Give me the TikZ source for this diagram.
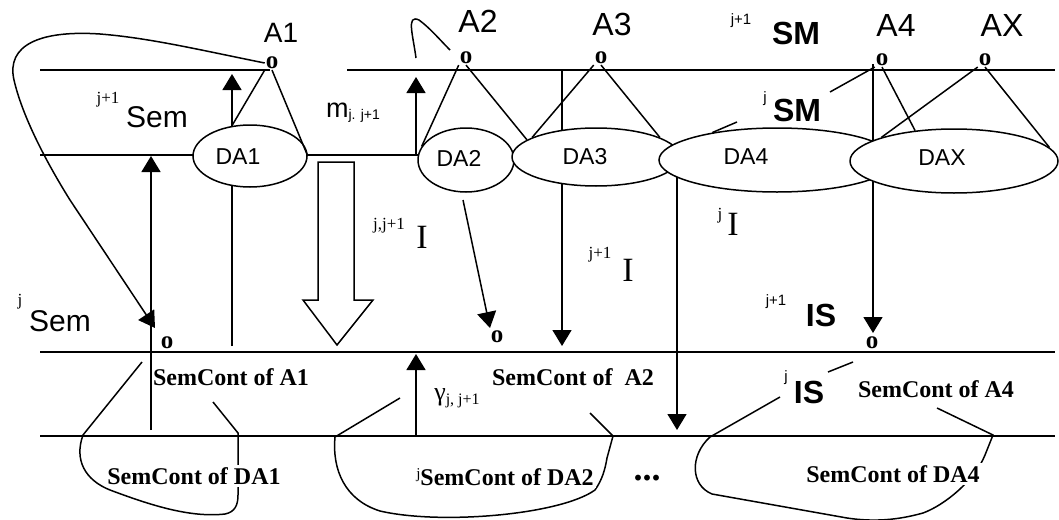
\documentclass[tikz,border=0pt]{standalone}
\usepackage{fontspec}
\setmainfont{Liberation Serif}
\setsansfont{Liberation Sans}
\usetikzlibrary{arrows.meta,shapes.geometric}
\newcommand{\fsz}[1]{\fontsize{#1}{#1}\selectfont}
\begin{document}
\begin{tikzpicture}[x=1pt,y=-1pt,line width=1.5pt,
  arr/.style={-{Triangle[length=16pt,width=19pt]}},
  omark/.style={font=\rmfamily\bfseries\fsz{25}, inner sep=0.3pt, fill=white},
  daell/.style={ellipse, draw, fill=white, inner sep=0pt},
  datxt/.style={font=\sffamily\fsz{23}, inner sep=0pt},
  toplab/.style={font=\sffamily\fsz{32}, inner sep=0pt},
  semlab/.style={font=\sffamily\fsz{30}, inner sep=0pt},
  smlab/.style={font=\sffamily\bfseries\fsz{32}, inner sep=0pt},
  supsf/.style={font=\sffamily\fsz{15}, inner sep=0pt},
  suprm/.style={font=\rmfamily\fsz{17}, inner sep=0pt},
  ilab/.style={font=\rmfamily\fsz{34}, inner sep=0pt},
  sclab/.style={font=\rmfamily\bfseries\fsz{24}, inner sep=0pt},
  scdalab/.style={font=\rmfamily\bfseries\fsz{24}, fill=white, inner sep=2pt},
]
\useasboundingbox (0,0) rectangle (1059,519);
\fill[white] (0,0) rectangle (1059,519);

% level lines
\draw (40,70) -- (270,70);
\draw (347,70) -- (1055,70);
\draw (40,155) -- (420,155);
\draw (40,352) -- (1055,352);
\draw (40,436) -- (1055,436);

% coordinates for free connector ends
\coordinate (a1b) at (232,346); \coordinate (a1t) at (232,74);
\coordinate (s1b) at (151,430); \coordinate (s1t) at (151,156);
\coordinate (m1b) at (416,155); \coordinate (m1t) at (416,77);
\coordinate (a3t) at (562,70);  \coordinate (a3b) at (562,346);
\coordinate (j4t) at (677,165); \coordinate (j4b) at (677,430);
\coordinate (a4t) at (873,64);  \coordinate (a4b) at (873,333);
\coordinate (gb) at (416,436);  \coordinate (gt) at (416,354);
\coordinate (d2b) at (463,200); \coordinate (d2e) at (490,328);
\coordinate (jS) at (155,328);

% vertical arrows (behind ellipses)
\draw[arr] (a1b) -- (a1t);
\draw[arr] (s1b) -- (s1t);
\draw[arr] (m1b) -- (m1t);
\draw[arr] (a3t) -- (a3b);
\draw[arr] (j4t) -- (j4b);
\draw[arr] (a4t) -- (a4b);
\draw[arr] (gb) -- (gt);
\draw[arr] (d2b) -- (d2e);

% ellipses
\node[daell, minimum width=114, minimum height=62] (DA1) at (250,156) {};
\node[daell, minimum width=96, minimum height=64] (DA2) at (466,160) {};
\node[daell, minimum width=168, minimum height=58] (DA3) at (596,157) {};
\node[daell, minimum width=236, minimum height=64] (DA4) at (777,160) {};
\node[daell, minimum width=208, minimum height=64] (DAX) at (954,161) {};
\node[datxt] (tDA1) at (238,157) {DA1};
\node[datxt] (tDA2) at (459,158) {DA2};
\node[datxt] (tDA3) at (585,157) {DA3};
\node[datxt] (tDA4) at (746,157) {DA4};
\node[datxt] (tDAX) at (942,158) {DAX};

% hollow arrow
\draw (318,162) -- (354,162) -- (354,300) -- (373,300) -- (337,345) -- (303,300) -- (318,300) -- cycle;

% o markers
\node[omark] (oA1) at (272,63) {o};
\node[omark] (oA2) at (466,58) {o};
\node[omark] (oA3) at (601,58) {o};
\node[omark] (oA4) at (882,60) {o};
\node[omark] (oAX) at (985,60) {o};
\node[omark] (oS1) at (167,343) {o};
\node[omark] (oS2) at (497,337) {o};
\node[omark] (oS4) at (872,343) {o};

% triangles
\draw (oA1.south west) -- (DA1.121);
\draw (oA1.south) -- (DA1.east);
\draw (oA2.south west) -- (DA2.163);
\draw (oA2.south) -- (DA3.166);
\draw (oA3.south west) -- (DA3.163);
\draw (oA3.south) -- (DA3.17);
\draw (oA4.south) -- (DAX.142);
\draw (oAX.south west) -- (DAX.162);
\draw (oAX.south) -- (DAX.8);

% labels top
\node[font=\sffamily\fsz{28}, inner sep=0pt] (lA1) at (281,33) {A1};
\node[toplab] (lA2) at (478,21) {A2};
\node[toplab] (lA3) at (612,24) {A3};
\node[toplab] (lA4) at (896,25) {A4};
\node[toplab] (lAX) at (1002,25) {AX};
\node[supsf] (sSM1) at (741,21) {j+1};
\node[smlab] (SM1) at (796,33) {SM};
\node[supsf] (sSM0) at (765,99) {j};
\node[smlab] (SM0) at (797,110) {SM};
\node[suprm] (sSem1) at (108,100) {j+1};
\node[semlab] (Sem1) at (157,117) {Sem};
\node[font=\sffamily\fsz{27}, inner sep=0pt] (mlab) at (353,113) {m\raisebox{-2pt}{\fsz{14}j. j+1}};
\node[suprm] (sSem0) at (20,302) {j};
\node[semlab] (Sem0) at (60,321) {Sem};

% I labels
\node[suprm] (sI1) at (389,226) {j,j+1};
\node[ilab] (I1) at (422,237) {I};
\node[suprm] (sI2) at (600,255) {j+1};
\node[ilab] (I2) at (628,270) {I};
\node[suprm] (sI3) at (720,216) {j};
\node[ilab] (I3) at (733,224) {I};
\node[supsf] (sIS1) at (776,302) {j+1};
\node[smlab] (IS1) at (821,315) {IS};
\node[supsf] (sIS0) at (786,378) {j};
\node[smlab] (IS0) at (809,392) {IS};
\node[font=\rmfamily\fsz{26}, inner sep=0pt] (gam) at (457,398) {γ\raisebox{-4pt}{\fsz{16}j, j+1}};

% pointer lines
\draw (oA4.south west) -- (830,92);
\draw (737,122) -- (DA4.157);
\draw (828,372) -- (853,362);

% A1 loop
\draw[arr] (oA1.west) .. controls (200,50) and (150,38) .. (100,34)
  .. controls (40,30) and (6,45) .. (14,80)
  .. controls (22,115) and (45,160) .. (70,200) -- (jS);
% A2 hook
\draw (416,58) .. controls (413,35) and (406,14) .. (419,20)
  .. controls (430,28) and (440,40) .. (450,50);

% bottom loops
\draw (142,362) -- (83,435) .. controls (74,460) and (85,480) .. (110,490)
  .. controls (150,505) and (190,518) .. (225,514)
  .. controls (235,512) and (238,505) .. (238,495) -- (238,433) -- (213,402);
\draw (400,398) -- (335,437) .. controls (332,470) and (345,500) .. (380,511)
  .. controls (440,525) and (560,515) .. (595,490)
  .. controls (602,480) and (605,470) .. (607,458) -- (613,436) -- (590,413);
\draw (780,397) -- (710,437) .. controls (690,455) and (690,485) .. (712,494)
  -- (847,518) .. controls (880,523) and (905,518) .. (923,513)
  .. controls (945,505) and (975,480) .. (985,455) -- (993,435) -- (937,408);

% SemCont texts
\node[sclab] (scA1) at (231,377) {SemCont of A1};
\node[sclab] (scA2) at (573,377) {SemCont of~ A2};
\node[sclab] (scA4) at (936,389) {SemCont of A4};
\node[scdalab] (scD1) at (194,476) {SemCont of DA1};
\node[scdalab] (scD2) at (505,477) {\raisebox{7pt}{\mdseries\fsz{15}j}SemCont of DA2};
\node[font=\rmfamily\bfseries\fsz{36}, inner sep=0pt] (dots) at (647,478) {...};
\node[scdalab] (scD4) at (893,474) {SemCont of DA4};
\end{tikzpicture}
\end{document}
